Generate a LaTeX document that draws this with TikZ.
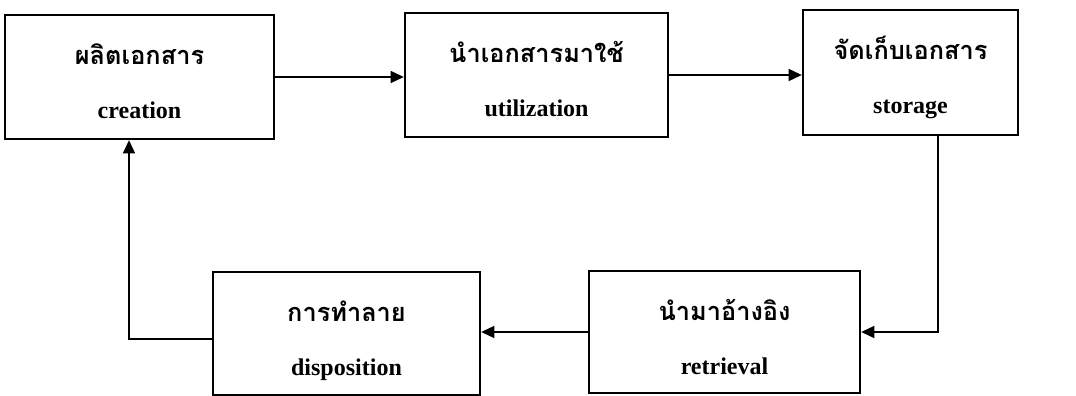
\documentclass[tikz,border=0pt]{standalone}
\usepackage{fontspec}
\setmainfont{Liberation Serif}
\newfontfamily\thaifont[Script=Thai]{Loma}
\usetikzlibrary{arrows.meta, positioning, calc}

\begin{document}
\begin{tikzpicture}[x=0.75pt, y=-0.75pt,
      stage/.style={rectangle, draw, line width=1.7pt, inner sep=0pt},
      thai/.style={anchor=base, font=\thaifont\bfseries\fontsize{19}{22}\selectfont},
      eng/.style={anchor=base, font=\bfseries\fontsize{18}{22}\selectfont},
      arr/.style={-{Triangle[length=10pt, width=9pt]}, line width=1.4pt},
    ]
    \useasboundingbox (0,0) rectangle (1076,396);
    % stages of the document life cycle
    \node[stage, minimum width=201.75pt, minimum height=93pt] (create) at (139.5,77) {};
    \node[stage, minimum width=197.25pt, minimum height=93pt] (use) at (536.5,75) {};
    \node[stage, minimum width=161.25pt, minimum height=93.75pt] (store) at (910.5,72.5) {};
    \node[stage, minimum width=203.25pt, minimum height=91.5pt] (retrieve) at (724.5,332) {};
    \node[stage, minimum width=200.25pt, minimum height=92.25pt] (dispose) at (346.5,333.5) {};
    % labels
    \node[thai] (create-th) at ($(create.north)+(0,51)$) {ผลิตเอกสาร};
    \node[eng] (create-en) at ($(create.north)+(0,105)$) {creation};
    \node[thai] (use-th) at ($(use.north)+(0,51)$) {นำเอกสารมาใช้};
    \node[eng] (use-en) at ($(use.north)+(0,105)$) {utilization};
    \node[thai] (store-th) at ($(store.north)+(0,51)$) {จัดเก็บเอกสาร};
    \node[eng] (store-en) at ($(store.north)+(0,105)$) {storage};
    \node[thai] (retrieve-th) at ($(retrieve.north)+(0,51)$) {นำมาอ้างอิง};
    \node[eng] (retrieve-en) at ($(retrieve.north)+(0,105)$) {retrieval};
    \node[thai] (dispose-th) at ($(dispose.north)+(0,51)$) {การทำลาย};
    \node[eng] (dispose-en) at ($(dispose.north)+(0,105)$) {disposition};
    % flow
    \draw[arr] (create.east) -- (create.east -| use.west);
    \draw[arr] (use.east) -- (use.east -| store.west);
    \draw[arr] ($(store.south)+(27.5,0)$) |- (retrieve.east);
    \draw[arr] (retrieve.west) -- (retrieve.west -| dispose.east);
    \draw[arr] ($(dispose.west)+(0,5.5)$) -| ($(create.south)+(-10.5,0)$);
  \end{tikzpicture}
\end{document}
